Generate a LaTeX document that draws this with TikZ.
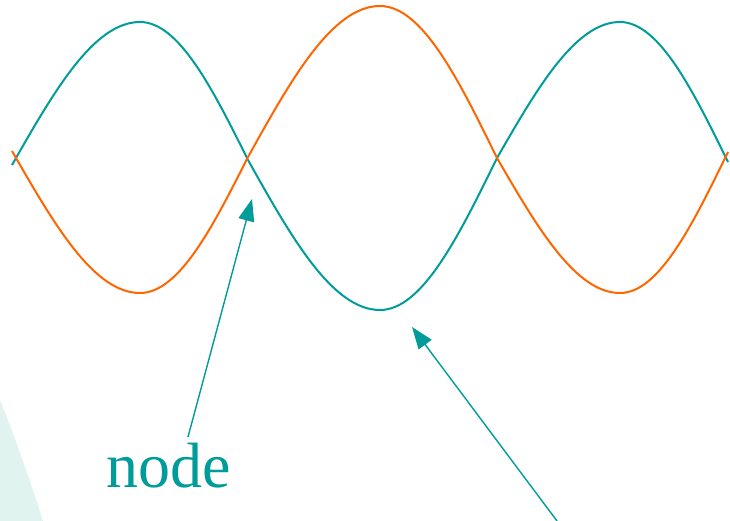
\documentclass[tikz,border=0pt]{standalone}
\usepackage{fontspec}
\setmainfont{Liberation Serif}
\usetikzlibrary{arrows.meta, positioning}
\definecolor{wvteal}{HTML}{009C9A}
\definecolor{wvorange}{HTML}{FF6600}
\definecolor{wvbg}{HTML}{E0F3EF}
\tikzset{
  wavea/.style={wvteal,line width=2pt},
  waveb/.style={wvorange,line width=2pt},
  lblnode/.style={inner sep=0pt,font=\fontsize{64}{64}\selectfont,text=wvteal},
  pointer/.style={-{Triangle[length=22pt,width=16pt]},wvteal,line width=1.4pt},
}

\begin{document}
\begin{tikzpicture}[x=1pt,y=-1pt]
  \useasboundingbox (0,0) rectangle (730,521);
  \fill[wvbg] (0,400) .. controls (16,440) and (30,480) .. (43,521) -- (0,521) -- cycle;
  \draw[wavea] (12,165) sin (140,22) cos (248,160) sin (380,310) cos (497,158) sin (620,22) cos (728,162);
  \draw[waveb] (12,151) sin (140,293) cos (248,157) sin (380,6) cos (497,158) sin (620,293) cos (728,152);
  \node[lblnode,anchor=base] (lbl) at (169,487) {node};
  \coordinate (tailA) at (188,437);
  \coordinate (tipA) at (252,199);
  \coordinate (tailB) at (557,521);
  \coordinate (tipB) at (412,327);
  \draw[pointer] (tailA) -- (tipA);
  \draw[pointer] (tailB) -- (tipB);
\end{tikzpicture}
\end{document}
